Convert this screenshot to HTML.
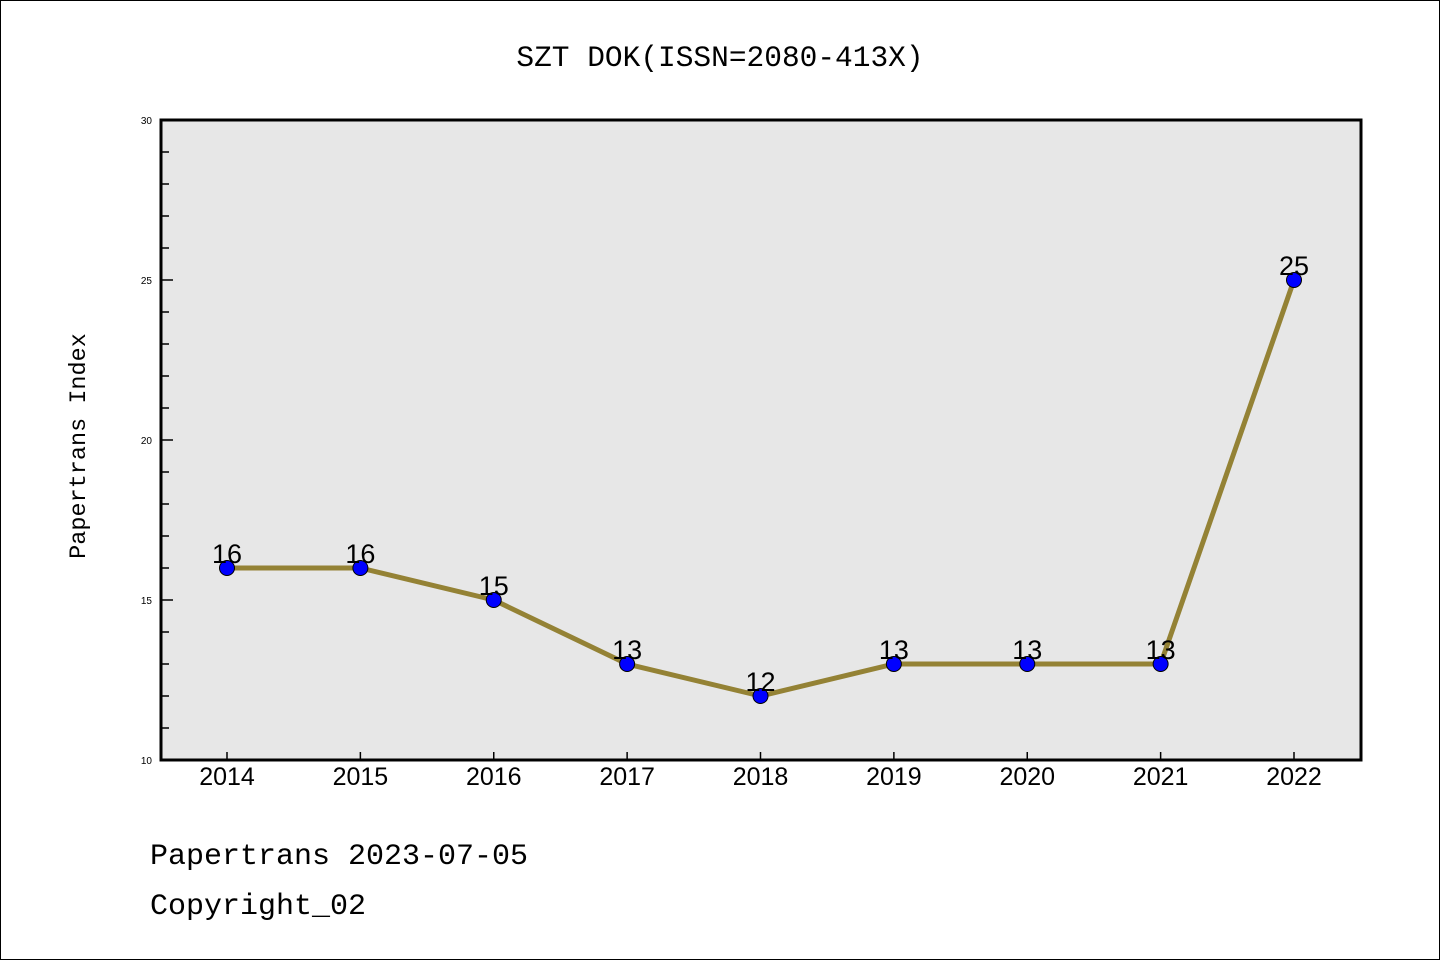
<!DOCTYPE html>
<html><head><meta charset="utf-8"><style>
body{margin:0;background:#fff}
svg{display:block}
</style></head><body>
<svg id="chart" width="1440" height="960" xmlns="http://www.w3.org/2000/svg">
<rect x="0.5" y="0.5" width="1439" height="959" fill="#fff" stroke="#000" stroke-width="1"/>
<text x="720" y="66" text-anchor="middle" font-family="Liberation Mono, monospace" font-size="29.5" fill="#000">SZT DOK(ISSN=2080-413X)</text>
<rect x="161" y="120" width="1200" height="640" fill="#e7e7e7"/>
<g id="axes"></g>
<g id="series"></g>
<rect x="161" y="120" width="1200" height="640" fill="none" stroke="#000" stroke-width="3"/>
<text transform="translate(85,446) rotate(-90)" text-anchor="middle" font-family="Liberation Mono, monospace" font-size="23.5" fill="#000">Papertrans Index</text>
<text x="150" y="864" font-family="Liberation Mono, monospace" font-size="30" fill="#000">Papertrans 2023-07-05</text>
<text x="150" y="914" font-family="Liberation Mono, monospace" font-size="30" fill="#000">Copyright_02</text>
</svg>
<script>
const years = ["2014","2015","2016","2017","2018","2019","2020","2021","2022"];
const values = [16,16,15,13,12,13,13,13,25];
const yTicks = [10,15,20,25,30];
const yMin = 10, yMax = 30;
const NS = "http://www.w3.org/2000/svg";
const L = 161, R = 1361, T = 120, B = 760;
const x0 = 227, xStep = (1294 - 227) / 8;
function xs(i){ return x0 + i * xStep; }
function ys(v){ return B - (v - yMin) / (yMax - yMin) * (B - T); }
function mk(tag, attrs, parent){ const e = document.createElementNS(NS, tag); for (const k in attrs) e.setAttribute(k, attrs[k]); parent.appendChild(e); return e; }
const ax = document.getElementById("axes");
for (let v = yMin; v <= yMax; v++) {
  const major = yTicks.includes(v);
  const t = mk("line", {x1: L, x2: L + (major ? 12 : 8), y1: ys(v), y2: ys(v), stroke: "#000", "stroke-width": 1.5}, ax);
  
  
}
yTicks.forEach(v => {
  const t = mk("text", {x: L - 9, y: ys(v) + 4, "text-anchor": "end", "font-family": "Liberation Sans, sans-serif", "font-size": 10, fill: "#000"}, ax);
  t.textContent = v;
  
  
});
years.forEach((yr, i) => {
  const t = mk("line", {x1: xs(i), x2: xs(i), y1: B, y2: B - 8, stroke: "#000", "stroke-width": 1.5}, ax);
  
  
  const l = mk("text", {x: xs(i), y: 785, "text-anchor": "middle", "font-family": "Liberation Sans, sans-serif", "font-size": 25, fill: "#000"}, ax);
  l.textContent = yr;
  
  
});
const sg = document.getElementById("series");
const line = mk("polyline", {points: values.map((v, i) => xs(i) + "," + ys(v)).join(" "), fill: "none", stroke: "#948235", "stroke-width": 5, "stroke-linejoin": "round"}, sg);


values.forEach((v, i) => {
  const c = mk("circle", {cx: xs(i), cy: ys(v), r: 7.5, fill: "#0000ff", stroke: "#000", "stroke-width": 1}, sg);
  
  
  const t = mk("text", {x: xs(i), y: ys(v) - 5, "text-anchor": "middle", "font-family": "Liberation Sans, sans-serif", "font-size": 27, fill: "#000"}, sg);
  t.textContent = v;
  
  
});
</script>
</body></html>
